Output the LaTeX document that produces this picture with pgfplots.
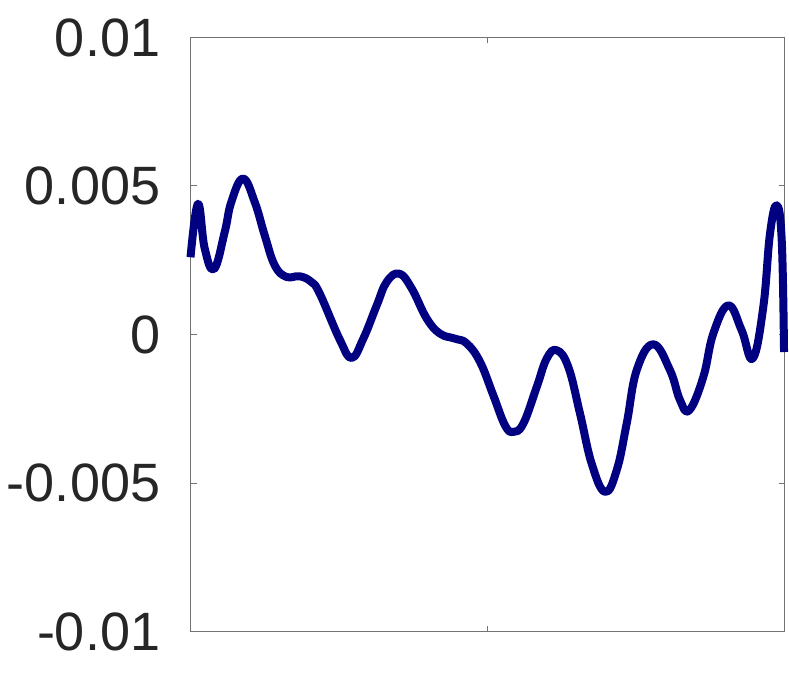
\documentclass[border=0pt]{standalone}
\usepackage{fontspec}
\setmainfont{Liberation Sans}
\usepackage{pgfplots}
\pgfplotsset{compat=1.18}
\usetikzlibrary{calc}
\definecolor{navyline}{RGB}{0,0,128}
\definecolor{labelgray}{HTML}{262626}

\begin{document}
\begin{tikzpicture}
\begin{axis}[scale only axis,width=297pt,height=297pt,
  xmin=0,xmax=1,ymin=-0.01,ymax=0.01,
  xtick={0,0.5,1},xticklabels={},
  ytick={-0.01,-0.005,0,0.005,0.01},
  yticklabels={-0.01,-0.005,0,0.005,0.01},
  scaled y ticks=false,
  tick align=inside,major tick length=3pt,
  axis line style={black!55,line width=0.5pt},
  every tick/.style={black!55,line width=0.5pt},
  yticklabel style={font=\fontsize{27}{32}\selectfont,text=labelgray,anchor=east,inner sep=0pt,xshift=-15pt},
  clip=false]
\addplot[navyline,line width=4pt,line join=round,line cap=butt,smooth,tension=0.7] coordinates {
(0,0.00260) (0.0126,0.00440) (0.0239,0.00290) (0.0396,0.00220) (0.0576,0.00345)
(0.0687,0.00446) (0.0884,0.00525) (0.1081,0.00446) (0.1249,0.00334) (0.1418,0.00233)
(0.1613,0.00194) (0.1838,0.00196) (0.2034,0.00177) (0.2175,0.00138) (0.2517,-0.00019)
(0.2714,-0.00079) (0.2909,-0.00014) (0.3135,0.00098) (0.3303,0.00177) (0.3515,0.00205)
(0.3724,0.00155) (0.3976,0.00054) (0.4200,0.00003) (0.4453,-0.00014) (0.4650,-0.00030)
(0.4874,-0.00092) (0.5098,-0.00205) (0.5295,-0.00306) (0.5434,-0.00328) (0.5603,-0.00300)
(0.5828,-0.00177) (0.5997,-0.00081) (0.6165,-0.00053) (0.6360,-0.00109) (0.6557,-0.00266)
(0.6754,-0.00435) (0.6978,-0.00530) (0.7175,-0.00457) (0.7343,-0.00300) (0.7512,-0.00120)
(0.7791,-0.00033) (0.8072,-0.00120) (0.8241,-0.00221) (0.8397,-0.00255) (0.8633,-0.00143)
(0.8801,0.00003) (0.9054,0.00098) (0.9279,0.00014) (0.9465,-0.00081) (0.9643,0.00093)
(0.9756,0.00340) (0.9869,0.00435) (0.9953,0.00317) (0.9992,-0.00059)
};
\coordinate (sw) at (rel axis cs:0,0);
\coordinate (ne) at (rel axis cs:1,1);
\end{axis}
\pgfresetboundingbox
\path[use as bounding box] ($(sw)+(-95.25pt,-20.75pt)$) rectangle ($(ne)+(2.25pt,18.75pt)$);
\end{tikzpicture}
\end{document}
